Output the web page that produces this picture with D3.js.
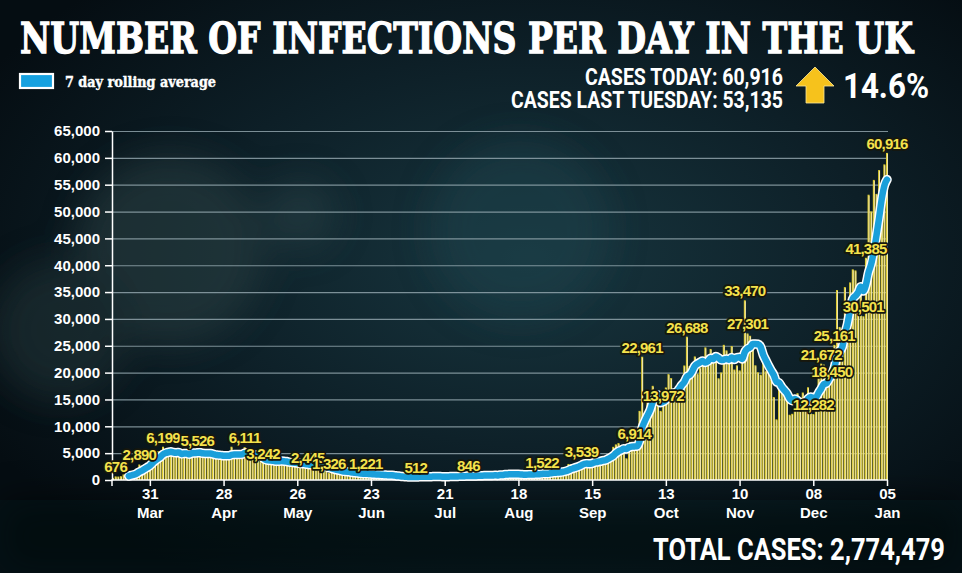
<!DOCTYPE html>
<html>
<head>
<meta charset="utf-8">
<script src="https://cdn.jsdelivr.net/npm/d3@7/dist/d3.min.js"></script>
<style>
body { margin: 0; background: #08141a; }
svg { display: block; }
</style>
</head>
<body>
<svg id="chart" width="962" height="573"></svg>
<script>

// daily reported cases, 17 Mar 2020 -> 05 Jan 2021
const firstDay = "2020-03-17";
const casesMar = [407, 676, 643, 714, 1035, 665, 967, 1427, 1452, 2129, 2890, 2546, 2900, 3100, 3700];
const casesApr = [4800, 5200, 5400, 5000, 6199, 4800, 4600, 5491, 4344, 5195, 5288, 4342, 5252, 4603, 4617,
                  5599, 5525, 5526, 4676, 4301, 4451, 4583, 5386, 4913, 4463, 4309, 3996, 4076, 4500, 5200];
const casesMay = [6201, 4806, 4339, 3985, 4406, 6111, 5614, 4649, 3896, 3923, 3877, 3403, 3242, 3446, 3760,
                  3651, 3542, 3284, 3612, 3372, 3315, 3287, 2959, 3109, 2925, 3004, 3013, 2887, 2995, 2445, 2636];
const casesJun = [2800, 2700, 2500, 2400, 2300, 2100, 1326, 1800, 1750, 1650, 1550, 1450, 1400, 1300, 1250,
                  1200, 1150, 1200, 1100, 1100, 1221, 1000, 950, 900, 950, 1000, 900, 850, 800, 750];
const casesJul = [829, 576, 544, 624, 516, 352, 581, 630, 612, 512, 820, 650, 530, 538, 650,
                  642, 687, 827, 580, 445, 560, 580, 769, 767, 743, 747, 685, 581, 763, 846, 880];
const casesAug = [743, 744, 938, 670, 892, 950, 871, 758, 1062, 816, 1148, 1009, 1441, 1062, 1012,
                  1040, 713, 1089, 812, 1182, 1033, 1288, 1041, 853, 1184, 1048, 1522, 1276, 1108, 1715, 1406];
const casesSep = [1295, 1508, 1735, 1940, 1813, 2988, 2948, 2460, 2659, 2919, 3539, 3497, 3330, 2621, 3105,
                  3991, 3395, 4322, 4422, 3899, 4368, 4926, 6178, 6634, 6874, 6042, 5693, 4044, 7143, 7108];
const casesOct = [6914, 6968, 12872, 22961, 12594, 14542, 14162, 17540, 13864, 15166, 12872, 13972, 17234, 19724, 18980,
                  15650, 16171, 16982, 18804, 21331, 26688, 21242, 20530, 23012, 19790, 20890, 22885, 24701, 23065, 24405, 21915];
const casesNov = [23254, 18950, 20018, 25177, 24141, 23287, 24957, 20572, 21350, 20412, 22950, 33470, 27301, 26860, 24962,
                  21363, 20051, 19609, 22915, 20252, 19875, 18662, 15450, 11299, 18213, 17555, 16022, 15871, 12155, 12330];
const casesDec = [13430, 16170, 14879, 16298, 15539, 17272, 14718, 12282, 16578, 20964, 21672, 21502, 18447, 20263, 18450,
                  25161, 35383, 28507, 27052, 35928, 33364, 36804, 39237, 39036, 32725, 34693, 30501, 41385, 53135, 50023, 55892];
const casesJan = [53285, 57725, 54990, 58784, 60916];

// days whose value is printed above the bar
const labelDates = ["2020-03-18", "2020-03-27", "2020-04-05", "2020-04-18", "2020-05-06", "2020-05-13",
                    "2020-05-30", "2020-06-07", "2020-06-21", "2020-07-10", "2020-07-30", "2020-08-27",
                    "2020-09-11", "2020-10-01", "2020-10-04", "2020-10-12", "2020-10-21", "2020-11-12",
                    "2020-11-13", "2020-12-08", "2020-12-11", "2020-12-15", "2020-12-16", "2020-12-27",
                    "2020-12-28", "2021-01-05"];

const xTickDates = ["2020-03-31", "2020-04-28", "2020-05-26", "2020-06-23", "2020-07-21", "2020-08-18",
                    "2020-09-15", "2020-10-13", "2020-11-10", "2020-12-08", "2021-01-05"];
const yTickValues = [0, 5000, 10000, 15000, 20000, 25000, 30000, 35000, 40000, 45000, 50000, 55000, 60000, 65000];

const casesToday = "60,916";
const casesLastWeek = "53,135";
const weekChange = "14.6%";
const totalCases = "2,774,479";

const parseDay = d3.timeParse("%Y-%m-%d");

const dailyCases = [].concat(casesMar, casesApr, casesMay, casesJun, casesJul, casesAug,
                             casesSep, casesOct, casesNov, casesDec, casesJan);

const days = dailyCases.map((v, i) => ({date: d3.timeDay.offset(parseDay(firstDay), i), value: v}));

// 7 day rolling average, from the 7th day onwards
const rolling = days.slice(6).map((d, i) => ({
    date: d.date,
    value: d3.mean(dailyCases.slice(i, i + 7))
}));

const svg = d3.select("#chart");
const defs = svg.append("defs");

const dims = {left: 112, right: 888, top: 131, bottom: 480};

let x = d3.scaleTime()
    .domain([parseDay(firstDay), parseDay("2021-01-05")])
    .range([113, 887]);
let y = d3.scaleLinear()
    .domain([0, 65000])
    .range([dims.bottom, dims.top]);

const step = x(days[1].date) - x(days[0].date);

// ---------- background ----------
let bg = defs.append("radialGradient").attr("id", "bgGrad")
    .attr("cx", "0.55").attr("cy", "0.45").attr("r", "0.65");
bg.append("stop").attr("offset", "0%").attr("stop-color", "#18363f");
bg.append("stop").attr("offset", "55%").attr("stop-color", "#0d1f27");
bg.append("stop").attr("offset", "100%").attr("stop-color", "#050d12");

defs.append("filter").attr("id", "blur").append("feGaussianBlur").attr("stdDeviation", 18);

svg.append("rect").attr("width", 962).attr("height", 573).attr("fill", "url(#bgGrad)");

// faint virus shape on the left
let blob = svg.append("g").attr("filter", "url(#blur)").attr("opacity", 0.55);
blob.append("circle").attr("cx", 170).attr("cy", 250).attr("r", 95).attr("fill", "#2a3f42");
blob.append("circle").attr("cx", 60).attr("cy", 330).attr("r", 70).attr("fill", "#243638");
blob.append("circle").attr("cx", 300).attr("cy", 215).attr("r", 35).attr("fill", "#2c4347");
blob.append("circle").attr("cx", 520).attr("cy", 230).attr("r", 90).attr("fill", "#1d3f48");
blob.append("rect").attr("x", 0).attr("y", 500).attr("width", 962).attr("height", 73).attr("fill", "#03090c");

// ---------- gridlines ----------
svg.append("g")
    .selectAll("line")
    .data(yTickValues.filter(v => v > 0))
    .enter().append("line")
    .attr("x1", dims.left).attr("x2", dims.right)
    .attr("y1", d => y(d) + 0.5).attr("y2", d => y(d) + 0.5)
    .attr("stroke", "#97aab2").attr("stroke-opacity", 0.8).attr("stroke-width", 1.2);

// ---------- bars ----------
let bars = svg.append("g").selectAll("g.bar")
    .data(days)
    .enter().append("g").attr("class", "bar");

bars.append("rect")
    .attr("x", d => x(d.date) - step / 2 + 0.3)
    .attr("y", d => y(d.value))
    .attr("width", step - 0.6)
    .attr("height", d => y(0) - y(d.value))
    .attr("fill", "#dccb2e");

bars.append("rect")
    .attr("x", d => x(d.date) - step / 2 + 1.3)
    .attr("y", d => y(d.value) + 1)
    .attr("width", 0.9)
    .attr("height", d => Math.max(0, y(0) - y(d.value) - 1))
    .attr("fill", "#f2e8bd");

// ---------- axes ----------
let yAxis = svg.append("g")
    .attr("class", "axis y-axis")
    .attr("transform", `translate(${dims.left},0)`)
    .call(d3.axisLeft(y).tickValues(yTickValues).tickSize(7).tickPadding(5)
        .tickFormat(d3.format(",")).tickSizeOuter(0));

yAxis.select(".domain").attr("stroke", "#ffffff").attr("stroke-width", 1.5);
yAxis.selectAll(".tick line").attr("stroke", "#ffffff").attr("stroke-width", 1.5);
yAxis.selectAll(".tick text")
    .attr("fill", "#ffffff")
    .style("font", "bold 15px 'Liberation Sans', Arial, sans-serif");

let xAxis = svg.append("g")
    .attr("class", "axis x-axis")
    .attr("transform", `translate(0,${dims.bottom})`)
    .call(d3.axisBottom(x).tickValues(xTickDates.map(parseDay)).tickSize(6).tickSizeOuter(6)
        .tickFormat(d3.timeFormat("%d")));

xAxis.select(".domain").attr("stroke", "#ffffff").attr("stroke-width", 1.5)
    .attr("d", `M${dims.left},6V0H${dims.right}`);
xAxis.selectAll(".tick line").attr("stroke", "#ffffff").attr("stroke-width", 1.5);
xAxis.selectAll(".tick text")
    .attr("fill", "#ffffff")
    .attr("y", 19).attr("dy", 0)
    .style("font", "bold 15px 'Liberation Sans', Arial, sans-serif");
xAxis.selectAll(".tick").append("text")
    .attr("fill", "#ffffff")
    .attr("y", 38)
    .attr("text-anchor", "middle")
    .style("font", "bold 15px 'Liberation Sans', Arial, sans-serif")
    .text(d => d3.timeFormat("%b")(d));

// ---------- rolling average line ----------
const avgLine = d3.line()
    .x(d => x(d.date))
    .y(d => y(d.value))
    .curve(d3.curveMonotoneX);

svg.append("path").datum(rolling)
    .attr("d", avgLine)
    .attr("fill", "none").attr("stroke", "#ffffff")
    .attr("stroke-width", 9.5).attr("stroke-linecap", "round").attr("stroke-linejoin", "round");
svg.append("path").datum(rolling)
    .attr("d", avgLine)
    .attr("fill", "none").attr("stroke", "#1a9fda")
    .attr("stroke-width", 6.5).attr("stroke-linecap", "round").attr("stroke-linejoin", "round");

// ---------- value labels ----------
const byDay = new Map(days.map(d => [+d.date, d.value]));

svg.append("g").selectAll("text")
    .data(labelDates.map(parseDay))
    .enter().append("text")
    .attr("x", d => x(d))
    .attr("y", d => y(byDay.get(+d)) - 4)
    .attr("text-anchor", "middle")
    .attr("fill", "#f4e24c")
    .attr("stroke", "#17170c").attr("stroke-width", 3.5).attr("stroke-linejoin", "round")
    .attr("paint-order", "stroke")
    .style("font", "bold 15px 'Liberation Sans', Arial, sans-serif")
    .style("letter-spacing", "-0.8px")
    .text(d => d3.format(",")(byDay.get(+d)));

// ---------- titles and legend ----------
svg.append("text")
    .attr("x", 20).attr("y", 53)
    .attr("fill", "#ffffff")
    .attr("stroke", "#ffffff").attr("stroke-width", 1.3)
    .attr("textLength", 893).attr("lengthAdjust", "spacingAndGlyphs")
    .style("font", "bold 42px 'DejaVu Serif', serif")
    .text("NUMBER OF INFECTIONS PER DAY IN THE UK");

svg.append("rect")
    .attr("x", 20).attr("y", 74).attr("width", 33).attr("height", 14)
    .attr("fill", "#16a1e0").attr("stroke", "#ffffff").attr("stroke-width", 2.2);
svg.append("text")
    .attr("x", 65).attr("y", 87)
    .attr("fill", "#ffffff")
    .attr("stroke", "#ffffff").attr("stroke-width", 0.4)
    .attr("textLength", 151).attr("lengthAdjust", "spacingAndGlyphs")
    .style("font", "bold 14px 'DejaVu Serif', serif")
    .text("7 day rolling average");

const condensed = "bold 24px Roboto, 'Liberation Sans', sans-serif";

svg.append("text")
    .attr("x", 783).attr("y", 85).attr("text-anchor", "end")
    .attr("fill", "#ffffff")
    .attr("textLength", 198).attr("lengthAdjust", "spacingAndGlyphs")
    .style("font", condensed)
    .text(`CASES TODAY: ${casesToday}`);
svg.append("text")
    .attr("x", 783).attr("y", 108).attr("text-anchor", "end")
    .attr("fill", "#ffffff")
    .attr("textLength", 272).attr("lengthAdjust", "spacingAndGlyphs")
    .style("font", condensed)
    .text(`CASES LAST TUESDAY: ${casesLastWeek}`);

// up arrow
svg.append("path")
    .attr("d", "M815,67 L834,86 L824,86 L824,103 L806,103 L806,86 L796,86 Z")
    .attr("fill", "#f6c21c").attr("stroke", "#fde89a").attr("stroke-width", 0.8);

svg.append("text")
    .attr("x", 843).attr("y", 98)
    .attr("fill", "#ffffff")
    .attr("textLength", 86).attr("lengthAdjust", "spacingAndGlyphs")
    .style("font", "bold 35px Roboto, 'Liberation Sans', sans-serif")
    .text(weekChange);

svg.append("text")
    .attr("x", 653).attr("y", 560)
    .attr("fill", "#ffffff")
    .attr("textLength", 292).attr("lengthAdjust", "spacingAndGlyphs")
    .style("font", "bold 32px Roboto, 'Liberation Sans', sans-serif")
    .text(`TOTAL CASES: ${totalCases}`);

</script>
</body>
</html>
